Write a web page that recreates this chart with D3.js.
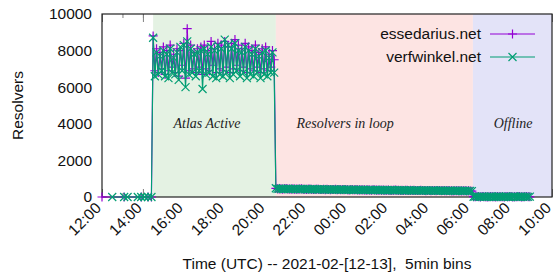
<!DOCTYPE html>
<html>
<head>
<meta charset="utf-8">
<script src="https://cdn.jsdelivr.net/npm/d3@7"></script>
<style>
  body { margin: 0; background: #fff; }
  #chart { width: 555px; height: 276px; }
  text { font-family: "Liberation Sans", Arial, sans-serif; }
</style>
</head>
<body>
<div id="chart"></div>
<script>
const W = 555, H = 276;
const margin = {top: 14, right: 3, bottom: 79, left: 102};

// series names and colours
const seriesNames = ['essedarius.net', 'verfwinkel.net'];
const seriesColors = ['#9400d3', '#009e73'];

// sparse zero bins before the measurement started
const preTimes = [
    ['12:00', '13:05', '13:55', '14:15', '14:25'],
    ['12:30', '13:05', '13:15', '13:45', '13:55', '14:05', '14:15', '14:25']
];

// 5 min bins, Atlas active 14:30 - 20:25
const activeEsse = [8800, 6900, 8100, 6800, 7900, 7000, 8200, 6700, 8000, 6900, 8300, 7100,
    7800, 6800, 8100, 6600, 8000, 7200, 8400, 6500, 9200, 6900, 8300, 7000,
    7900, 6800, 8100, 7100, 8200, 6700, 8300, 7000, 8000, 6900, 8500, 7200,
    8100, 6800, 8400, 7000, 8300, 6900, 8500, 7100, 8200, 6800, 8400, 7000,
    8600, 7200, 8300, 6900, 8100, 7100, 8400, 6800, 8200, 7000, 8000, 6900,
    8300, 7100, 7900, 6800, 8100, 7000, 8200, 6900, 7800, 7100, 8000, 7500];
const activeVerf = [8700, 6600, 7900, 6700, 7700, 6900, 8000, 6600, 7800, 6500, 8100, 6800,
    7600, 6700, 7900, 6400, 8200, 6900, 8300, 6000, 8500, 6700, 8100, 6800,
    7800, 6600, 7900, 6900, 8000, 5900, 8100, 6700, 7800, 6800, 8200, 6600,
    8000, 6500, 8300, 6700, 8100, 6600, 8600, 6800, 8300, 6500, 8100, 6700,
    8400, 6900, 8000, 6600, 7900, 6800, 8200, 6500, 8000, 6700, 7800, 6600,
    8100, 6800, 7700, 6500, 7900, 6700, 8000, 6600, 7600, 6800, 7900, 6800];

// resolvers in loop 20:30 - 06:05
const loopEsse = [470, 450, 440, 455, 430, 445, 460, 435, 440, 425, 450, 430,
    440, 420, 435, 445, 425, 430, 415, 440, 420, 430, 410, 425,
    420, 430, 405, 415, 425, 400, 420, 410, 395, 415, 405, 420,
    400, 410, 395, 405, 390, 415, 400, 385, 405, 395, 400, 390,
    395, 385, 400, 380, 390, 375, 395, 385, 370, 390, 380, 385,
    375, 385, 370, 380, 365, 375, 385, 360, 375, 370, 380, 365,
    370, 360, 375, 355, 365, 370, 350, 365, 360, 370, 355, 360,
    355, 365, 350, 360, 345, 355, 360, 340, 355, 350, 345, 355,
    350, 340, 355, 345, 335, 350, 340, 345, 330, 345, 340, 335,
    340, 330, 345, 335, 325, 340, 330, 320];
const loopVerf = [480, 440, 455, 435, 450, 430, 445, 450, 425, 445, 430, 440,
    430, 445, 420, 435, 440, 415, 435, 425, 430, 415, 435, 420,
    425, 410, 420, 430, 405, 420, 415, 400, 420, 405, 410, 415,
    405, 395, 410, 400, 405, 390, 410, 395, 390, 405, 385, 400,
    390, 400, 380, 395, 385, 390, 375, 390, 380, 375, 390, 380,
    380, 370, 385, 375, 370, 380, 365, 375, 380, 360, 370, 375,
    365, 375, 360, 370, 355, 365, 370, 355, 365, 350, 365, 355,
    360, 350, 355, 365, 345, 355, 350, 345, 360, 345, 350, 340,
    345, 355, 340, 350, 335, 345, 350, 335, 345, 330, 340, 345,
    335, 345, 330, 340, 335, 320, 335, 325];

// offline 06:10 - 08:55
const offEsse = [20, 10, 30, 15, 5, 25, 10, 20, 0, 15, 30, 10, 20, 5, 25, 15, 10,
    20, 0, 30, 15, 10, 25, 5, 20, 10, 15, 30, 5, 20, 10, 25, 15, 10];
const offVerf = [15, 25, 10, 20, 5, 30, 15, 10, 20, 5, 25, 15, 0, 20, 10, 30, 15,
    5, 20, 25, 10, 15, 0, 20, 30, 10, 15, 5, 25, 10, 20, 15, 5, 20];

// shaded phases
const phases = [
    {label: 'Atlas Active', from: '2021-02-12T14:30', to: '2021-02-12T20:30', at: '2021-02-12T17:08', color: '#e4f2e3'},
    {label: 'Resolvers in loop', from: '2021-02-12T20:30', to: '2021-02-13T06:08', at: '2021-02-12T23:53', color: '#fde4e3'},
    {label: 'Offline', from: '2021-02-13T06:08', to: '2021-02-13T10:00', at: '2021-02-13T08:06', color: '#e3e3f8'}
];

const yTicks = [0, 2000, 4000, 6000, 8000, 10000];
const xLabel = 'Time (UTC) -- 2021-02-[12-13],  5min bins';
const yLabel = 'Resolvers';

const parse = s => new Date(s + ':00Z');
const day1 = '2021-02-12T';

function binned(start, values) {
    const t0 = parse(start);
    return values.map((v, i) => ({t: new Date(+t0 + i * 300000), v: v}));
}

const series = [
    preTimes[0].map(t => ({t: parse(day1 + t), v: 0}))
        .concat(binned('2021-02-12T14:30', activeEsse))
        .concat(binned('2021-02-12T20:30', loopEsse))
        .concat(binned('2021-02-13T06:10', offEsse)),
    preTimes[1].map(t => ({t: parse(day1 + t), v: 0}))
        .concat(binned('2021-02-12T14:30', activeVerf))
        .concat(binned('2021-02-12T20:30', loopVerf))
        .concat(binned('2021-02-13T06:10', offVerf))
];

const svg = d3.select('#chart').append('svg')
    .attr('width', W).attr('height', H);

const x = d3.scaleUtc()
    .domain([parse('2021-02-12T12:00'), parse('2021-02-13T10:00')])
    .range([margin.left, W - margin.right]);
const y = d3.scaleLinear()
    .domain([0, 10000])
    .range([H - margin.bottom, margin.top]);

// ticks (inward, mirrored) - drawn first so the shading covers them
const tickColor = '#808080';
function tickGroup(axis, ty) {
    svg.append('g').attr('transform', `translate(0,${ty})`)
        .call(axis)
        .call(g => g.select('.domain').remove())
        .call(g => g.selectAll('text').remove())
        .call(g => g.selectAll('line').attr('stroke', tickColor));
}
tickGroup(d3.axisBottom(x).ticks(d3.utcHour.every(1)).tickSize(-4), y(0));
tickGroup(d3.axisBottom(x).ticks(d3.utcHour.every(2)).tickSize(-8), y(0));
tickGroup(d3.axisTop(x).ticks(d3.utcHour.every(1)).tickSize(-4), y(10000));
tickGroup(d3.axisTop(x).ticks(d3.utcHour.every(2)).tickSize(-8), y(10000));

// phase shading
svg.append('g').selectAll('rect')
    .data(phases)
    .join('rect')
    .attr('x', d => x(parse(d.from)))
    .attr('width', d => x(parse(d.to)) - x(parse(d.from)))
    .attr('y', y(10000))
    .attr('height', y(0) - y(10000))
    .attr('fill', d => d.color);

svg.append('g').selectAll('text')
    .data(phases)
    .join('text')
    .attr('x', d => x(parse(d.at)))
    .attr('y', y(3750))
    .attr('text-anchor', 'middle')
    .style('font-family', '"Liberation Serif", "Times New Roman", serif')
    .style('font-style', 'italic')
    .style('font-size', '14px')
    .attr('fill', '#222')
    .text(d => d.label);

// axes labels
svg.append('g')
    .attr('transform', `translate(${margin.left},0)`)
    .call(d3.axisLeft(y).tickValues(yTicks).tickFormat(d3.format('d')).tickSize(0).tickPadding(10))
    .call(g => g.select('.domain').remove())
    .call(g => g.selectAll('text').style('font-size', '15.5px').attr('fill', '#111'));

svg.append('g')
    .attr('transform', `translate(0,${y(0)})`)
    .call(d3.axisBottom(x).ticks(d3.utcHour.every(2)).tickFormat(d3.utcFormat('%H:%M')).tickSize(0))
    .call(g => g.select('.domain').remove())
    .call(g => g.selectAll('text')
        .attr('y', 0).attr('dy', 0)
        .attr('text-anchor', 'end')
        .attr('transform', 'translate(-0.5,12) rotate(-45)')
        .style('font-size', '15.5px')
        .attr('fill', '#111'));

svg.append('text')
    .attr('x', (margin.left + W - margin.right) / 2)
    .attr('y', 269)
    .attr('text-anchor', 'middle')
    .style('font-size', '15.5px')
    .attr('fill', '#111')
    .style('white-space', 'pre')
    .text(xLabel);

svg.append('text')
    .attr('transform', `translate(23,${(y(0) + y(10000)) / 2}) rotate(-90)`)
    .attr('text-anchor', 'middle')
    .style('font-size', '15.5px')
    .attr('fill', '#111')
    .text(yLabel);

// border
svg.append('rect')
    .attr('x', x.range()[0]).attr('y', y(10000))
    .attr('width', x.range()[1] - x.range()[0])
    .attr('height', y(0) - y(10000))
    .attr('fill', 'none')
    .attr('stroke', '#222')
    .attr('stroke-width', 1.2);

// data
const markers = [
    'M-4.5,0H4.5M0,-4.5V4.5',
    'M-4,-4L4,4M-4,4L4,-4'
];
const line = d3.line().x(d => x(d.t)).y(d => y(d.v));

series.forEach((s, i) => {
    const g = svg.append('g');
    g.append('path')
        .attr('d', line(s))
        .attr('fill', 'none')
        .attr('stroke', seriesColors[i])
        .attr('stroke-width', 1.2);
    g.selectAll('path.pt')
        .data(s)
        .join('path')
        .attr('class', 'pt')
        .attr('transform', d => `translate(${x(d.t)},${y(d.v)})`)
        .attr('d', markers[i])
        .attr('fill', 'none')
        .attr('stroke', seriesColors[i])
        .attr('stroke-width', 1.2);
});

// legend
const legend = svg.append('g').selectAll('g')
    .data(seriesNames)
    .join('g')
    .attr('transform', (d, i) => `translate(0,${34 + i * 23})`);
legend.append('text')
    .attr('x', 481)
    .attr('dy', '0.35em')
    .attr('text-anchor', 'end')
    .style('font-size', '15.5px')
    .attr('fill', '#111')
    .text(d => d);
legend.append('line')
    .attr('x1', 490).attr('x2', 535)
    .attr('stroke', (d, i) => seriesColors[i])
    .attr('stroke-width', 1.2);
legend.append('path')
    .attr('transform', 'translate(512.5,0)')
    .attr('d', (d, i) => markers[i])
    .attr('fill', 'none')
    .attr('stroke', (d, i) => seriesColors[i])
    .attr('stroke-width', 1.2);
</script>
</body>
</html>
